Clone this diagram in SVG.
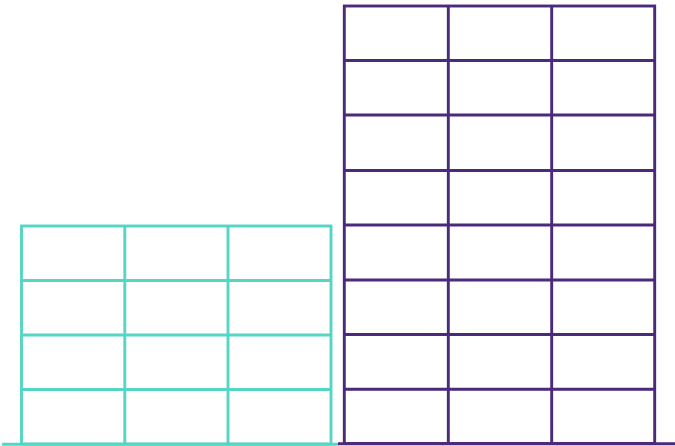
<svg xmlns="http://www.w3.org/2000/svg" width="675" height="446" viewBox="0 0 675 446">
<style>
.teal{fill:none;stroke:#55d5c3;stroke-width:2.9}
.purple{fill:none;stroke:#4b2a7b;stroke-width:2.9}
</style>
<rect width="675" height="446" fill="#ffffff"/>
<g id="teal-building" class="teal">
<rect x="21.5" y="226" width="309.5" height="218"/>
<path d="M124.8 226V444M228 226V444M21.5 280.5H331M21.5 335H331M21.5 389.5H331"/>
<path d="M2 444.3H338"/>
</g>
<g id="purple-building" class="purple">
<rect x="344.3" y="6" width="310.4" height="437.5"/>
<path d="M448.3 6V443.5M551.7 6V443.5"/>
<path d="M344.3 60.5H654.7M344.3 115H654.7M344.3 170.5H654.7M344.3 225H654.7M344.3 280H654.7M344.3 334.5H654.7M344.3 389.2H654.7"/>
<path d="M338 443.8H675"/>
</g>
</svg>
